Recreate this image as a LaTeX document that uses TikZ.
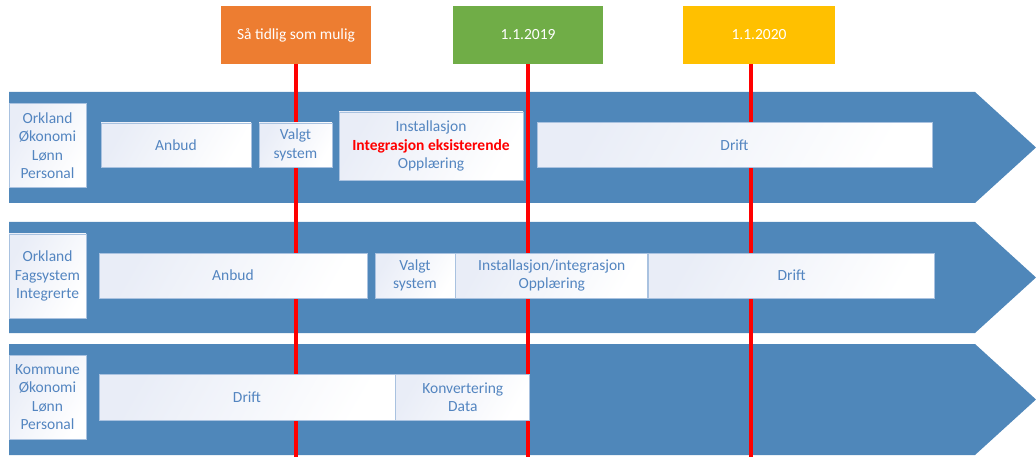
\documentclass[tikz,border=0pt]{standalone}
\usepackage{fontspec}
\setmainfont{Carlito}
\usetikzlibrary{positioning}

\definecolor{bandblue}{HTML}{4F87BA}
\definecolor{phasetext}{HTML}{5385C0}
\definecolor{phaseline}{HTML}{A9C2E0}
\definecolor{phasetint}{HTML}{E9EDF7}
\definecolor{asaporange}{HTML}{ED7D31}
\definecolor{datgreen}{HTML}{70AD47}
\definecolor{datyellow}{HTML}{FFC000}

\tikzset{
	band/.style={fill=bandblue},
	phase/.style={draw=phaseline,line width=.8pt,shading=axis,left color=phasetint,right color=white,shading angle=60,text=phasetext,align=center,inner sep=0pt,font=\fontsize{15.5}{18.5}\selectfont},
	datebox/.style={text=white,inner sep=0pt,minimum height=58pt,minimum width=150pt,font=\fontsize{15.5}{18.5}\selectfont},
	deadline/.style={draw=red,line width=3.5pt}
}

\begin{document}
\begin{tikzpicture}[x=1pt,y=-1pt]
		\useasboundingbox (0,0) rectangle (1036,457);
		
		% bands
		\fill[band] (9,92) -- (975,92) -- (1036,147.5) -- (975,203) -- (9,203) -- cycle;
		\fill[band] (9,222) -- (975,222) -- (1036,277.5) -- (975,333) -- (9,333) -- cycle;
		\fill[band] (9,344) -- (975,344) -- (1036,399.5) -- (975,455) -- (9,455) -- cycle;
		
		% milestones
		\node(asap) at (296,35)[datebox,fill=asaporange]{Så tidlig som mulig};
		\node(d2019) at (528,35)[datebox,fill=datgreen]{1.1.2019};
		\node(d2020) at (759,35)[datebox,fill=datyellow,minimum width=152pt]{1.1.2020};
		
		\coordinate(asapend) at (296,457);
		\coordinate(d2019end) at (528,457);
		\coordinate(d2020top) at (751,64);
		\coordinate(d2020end) at (751,457);
		\draw[deadline] (asap.south) -- (asapend);
		\draw[deadline] (d2019.south) -- (d2019end);
		\draw[deadline] (d2020top) -- (d2020end);
		
		% Orkland okonomi
		\node(lab1) at (47.5,145.5)[phase,minimum width=77pt,minimum height=84pt]{Orkland\\Økonomi\\Lønn\\Personal};
		\node(anb1) at (176,145)[phase,minimum width=150pt,minimum height=44pt]{Anbud};
		\node(val1) at (295.5,145)[phase,minimum width=73pt,minimum height=44pt]{Valgt\\system};
		\node(ins1) at (431,146)[phase,minimum width=184pt,minimum height=68pt]{Installasjon\\{\bfseries\color{red}Integrasjon eksisterende}\\Opplæring};
		\node(dri1) at (734.5,145)[phase,minimum width=395pt,minimum height=45pt]{Drift};
		
		% Orkland fagsystem
		\node(lab2) at (47.5,276)[phase,minimum width=77pt,minimum height=84pt]{Orkland\\Fagsystem\\Integrerte};
		\node(anb2) at (233,275.5)[phase,minimum width=268pt,minimum height=45pt]{Anbud};
		\node(val2) at (415,275.5)[phase,minimum width=80pt,minimum height=45pt]{Valgt\\system};
		\node(ins2)[phase,minimum width=192pt,minimum height=45pt,right=0pt of val2]{Installasjon/integrasjon\\Opplæring};
		\node(dri2)[phase,minimum width=286pt,minimum height=45pt,right=0pt of ins2]{Drift};
		
		% Kommune
		\node(lab3) at (47.5,397)[phase,minimum width=77pt,minimum height=84pt]{Kommune\\Økonomi\\Lønn\\Personal};
		\node(dri3) at (247,397)[phase,minimum width=296pt,minimum height=46pt]{Drift};
		\node(kon3)[phase,minimum width=134pt,minimum height=46pt,right=0pt of dri3]{Konvertering\\Data};
		
	\end{tikzpicture}
\end{document}
